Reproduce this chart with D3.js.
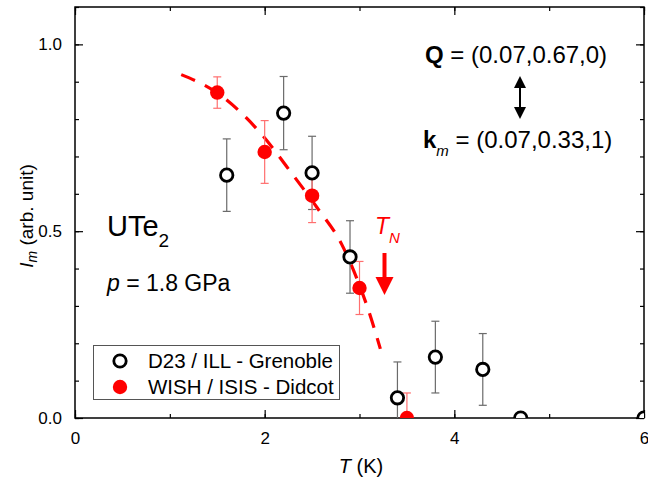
<!DOCTYPE html>
<html>
<head>
<meta charset="utf-8">
<script src="https://cdn.jsdelivr.net/npm/d3@7"></script>
<style>
  body { margin: 0; background: #fff; }
  svg { font-family: "Liberation Sans", Arial, sans-serif; }
</style>
</head>
<body>
<svg id="chart" width="648" height="479"></svg>
<script>
// D23 / ILL - Grenoble (open circles)
const d23T = [1.6, 2.2, 2.5, 2.9, 3.4, 3.8, 4.3, 4.7, 6.0];
const d23I = [0.650, 0.816, 0.656, 0.431, 0.054, 0.163, 0.130, 0.0, 0.0];
const d23Err = [0.097, 0.098, 0.098, 0.097, 0.096, 0.096, 0.096, 0, 0];

// WISH / ISIS - Didcot (filled circles)
const wishT = [1.5, 2.0, 2.5, 3.0, 3.5];
const wishI = [0.871, 0.712, 0.595, 0.348, 0.0];
const wishErr = [0.042, 0.084, 0.072, 0.071, 0.067];

// dashed guide to the eye
const fitT = [1.12, 1.5, 1.93, 2.3, 2.55, 2.81, 3.0, 3.09, 3.22];
const fitI = [0.919, 0.87, 0.77, 0.65, 0.564, 0.466, 0.355, 0.292, 0.185];

const xTicks = [0, 2, 4, 6];
const yTicks = [0.0, 0.5, 1.0];

let svg = d3.select("#chart");
let margin = {top: 7, right: 4, bottom: 61, left: 75};
let width = 648 - margin.left - margin.right;
let height = 479 - margin.top - margin.bottom;

let x = d3.scaleLinear().domain([0, 6]).range([0, width]);
let y = d3.scaleLinear().domain([0, 1.1]).range([height, 0]);

let g = svg.append("g")
    .attr("transform", "translate(" + margin.left + "," + margin.top + ")");

svg.append("defs").append("clipPath").attr("id", "plotClip")
    .append("rect").attr("width", width).attr("height", height);

// axes: ticks point inward, mirrored on top/right
let minorX = d3.range(0, 6.01, 1);
let minorY = d3.range(0, 1.101, 0.1);

function styleAxis(sel) {
    sel.select(".domain").remove();
    sel.selectAll("line").attr("stroke", "#000").attr("stroke-width", 1.2);
    sel.selectAll("text").style("font-size", "17px").attr("fill", "#000");
}

g.append("g").attr("transform", "translate(0," + height + ")")
    .call(d3.axisBottom(x).tickValues(minorX).tickSize(-4).tickFormat(""))
    .call(styleAxis);
g.append("g").attr("transform", "translate(0," + height + ")")
    .call(d3.axisBottom(x).tickValues(xTicks).tickSize(-8).tickPadding(14).tickFormat(d3.format("d")))
    .call(styleAxis);
g.append("g")
    .call(d3.axisTop(x).tickValues(minorX).tickSize(-4).tickFormat(""))
    .call(styleAxis);
g.append("g")
    .call(d3.axisTop(x).tickValues(xTicks).tickSize(-8).tickFormat(""))
    .call(styleAxis);

g.append("g")
    .call(d3.axisLeft(y).tickValues(minorY).tickSize(-4).tickFormat(""))
    .call(styleAxis);
g.append("g")
    .call(d3.axisLeft(y).tickValues(yTicks).tickSize(-8).tickPadding(13).tickFormat(d3.format(".1f")))
    .call(styleAxis);
g.append("g").attr("transform", "translate(" + width + ",0)")
    .call(d3.axisRight(y).tickValues(minorY).tickSize(-4).tickFormat(""))
    .call(styleAxis);
g.append("g").attr("transform", "translate(" + width + ",0)")
    .call(d3.axisRight(y).tickValues(yTicks).tickSize(-8).tickFormat(""))
    .call(styleAxis);

g.append("rect")
    .attr("width", width).attr("height", height)
    .attr("fill", "none").attr("stroke", "#000").attr("stroke-width", 1.5);

// axis titles
let xt = svg.append("text")
    .attr("x", 361).attr("y", 473)
    .attr("text-anchor", "middle").style("font-size", "20px");
xt.append("tspan").style("font-style", "italic").text("T");
xt.append("tspan").text(" (K)");

let yt = svg.append("text")
    .attr("transform", "translate(33,216) rotate(-90)")
    .attr("text-anchor", "middle").style("font-size", "19px");
yt.append("tspan").style("font-style", "italic").text("I");
yt.append("tspan").style("font-style", "italic").style("font-size", "14px").attr("dy", 4).text("m");
yt.append("tspan").attr("dy", -4).text(" (arb. unit)");

let plot = g.append("g").attr("clip-path", "url(#plotClip)");

// dashed line
let fitData = fitT.map((t, i) => ({t: t, v: fitI[i]}));
plot.append("path")
    .datum(fitData)
    .attr("fill", "none")
    .attr("stroke", "#ff0000")
    .attr("stroke-width", 3.2)
    .attr("stroke-dasharray", "15,11")
    .attr("d", d3.line().x(d => x(d.t)).y(d => y(d.v)).curve(d3.curveMonotoneX));

// error bars
function errorBars(ts, vs, es, color) {
    let rows = ts.map((t, i) => ({t: t, v: vs[i], e: es[i]})).filter(d => d.e > 0);
    let eg = plot.append("g").attr("stroke", color).attr("stroke-width", 1.2);
    eg.selectAll("line.v").data(rows).enter().append("line")
        .attr("x1", d => x(d.t)).attr("x2", d => x(d.t))
        .attr("y1", d => y(d.v - d.e)).attr("y2", d => y(d.v + d.e));
    eg.selectAll("line.top").data(rows).enter().append("line")
        .attr("x1", d => x(d.t) - 4).attr("x2", d => x(d.t) + 4)
        .attr("y1", d => y(d.v + d.e)).attr("y2", d => y(d.v + d.e));
    eg.selectAll("line.bot").data(rows).enter().append("line")
        .attr("x1", d => x(d.t) - 4).attr("x2", d => x(d.t) + 4)
        .attr("y1", d => y(d.v - d.e)).attr("y2", d => y(d.v - d.e));
}
errorBars(d23T, d23I, d23Err, "#6b6b6b");
errorBars(wishT, wishI, wishErr, "#ff6f6f");

plot.selectAll("circle.wish")
    .data(wishT.map((t, i) => ({t: t, v: wishI[i]})))
    .enter().append("circle")
    .attr("cx", d => x(d.t)).attr("cy", d => y(d.v))
    .attr("r", 7.2).attr("fill", "#ff0000");

plot.selectAll("circle.d23")
    .data(d23T.map((t, i) => ({t: t, v: d23I[i]})))
    .enter().append("circle")
    .attr("cx", d => x(d.t)).attr("cy", d => y(d.v))
    .attr("r", 6.2).attr("fill", "#fff")
    .attr("stroke", "#000").attr("stroke-width", 2.8);

// legend
let lg = svg.append("g");
lg.append("rect")
    .attr("x", 93.5).attr("y", 345.5).attr("width", 246).attr("height", 54)
    .attr("fill", "#fff").attr("stroke", "#555").attr("stroke-width", 1);
lg.append("circle").attr("cx", 120).attr("cy", 361).attr("r", 6.2)
    .attr("fill", "#fff").attr("stroke", "#000").attr("stroke-width", 2.8);
lg.append("circle").attr("cx", 120).attr("cy", 387).attr("r", 7.2).attr("fill", "#ff0000");
lg.append("text").attr("x", 148).attr("y", 368).style("font-size", "20.5px").text("D23 / ILL - Grenoble");
lg.append("text").attr("x", 148).attr("y", 394).style("font-size", "20.5px").text("WISH / ISIS - Didcot");

// annotations
let ute = svg.append("text").attr("x", 107).attr("y", 236).style("font-size", "29px");
ute.append("tspan").text("UTe");
ute.append("tspan").attr("dy", 11).style("font-size", "19px").text("2");

let pt = svg.append("text").attr("x", 107).attr("y", 291).style("font-size", "23px");
pt.append("tspan").style("font-style", "italic").text("p");
pt.append("tspan").text(" = 1.8 GPa");

let qt = svg.append("text").attr("x", 425).attr("y", 63).style("font-size", "24px");
qt.append("tspan").style("font-weight", "bold").text("Q");
qt.append("tspan").text(" = (0.07,0.67,0)");

let kt = svg.append("text").attr("x", 423).attr("y", 148).style("font-size", "24px");
kt.append("tspan").style("font-weight", "bold").text("k");
kt.append("tspan").attr("dy", 8).style("font-style", "italic").style("font-size", "15px").text("m");
kt.append("tspan").attr("dy", -8).text(" = (0.07,0.33,1)");

// double arrow
svg.append("line").attr("x1", 520).attr("x2", 520).attr("y1", 82).attr("y2", 113)
    .attr("stroke", "#000").attr("stroke-width", 2);
svg.append("path").attr("d", "M520,76 L514,88 L526,88 Z").attr("fill", "#000");
svg.append("path").attr("d", "M520,119 L514,107 L526,107 Z").attr("fill", "#000");

// T_N marker
let tn = svg.append("text").attr("x", 375).attr("y", 234).attr("fill", "#ff0000").style("font-size", "23px");
tn.append("tspan").style("font-style", "italic").text("T");
tn.append("tspan").attr("dy", 9).style("font-style", "italic").style("font-size", "15px").text("N");
svg.append("line").attr("x1", 384.5).attr("x2", 384.5).attr("y1", 253).attr("y2", 280)
    .attr("stroke", "#ff0000").attr("stroke-width", 4);
svg.append("path").attr("d", "M375.5,277 L393.5,277 L384.5,295 Z").attr("fill", "#ff0000");
</script>
</body>
</html>
